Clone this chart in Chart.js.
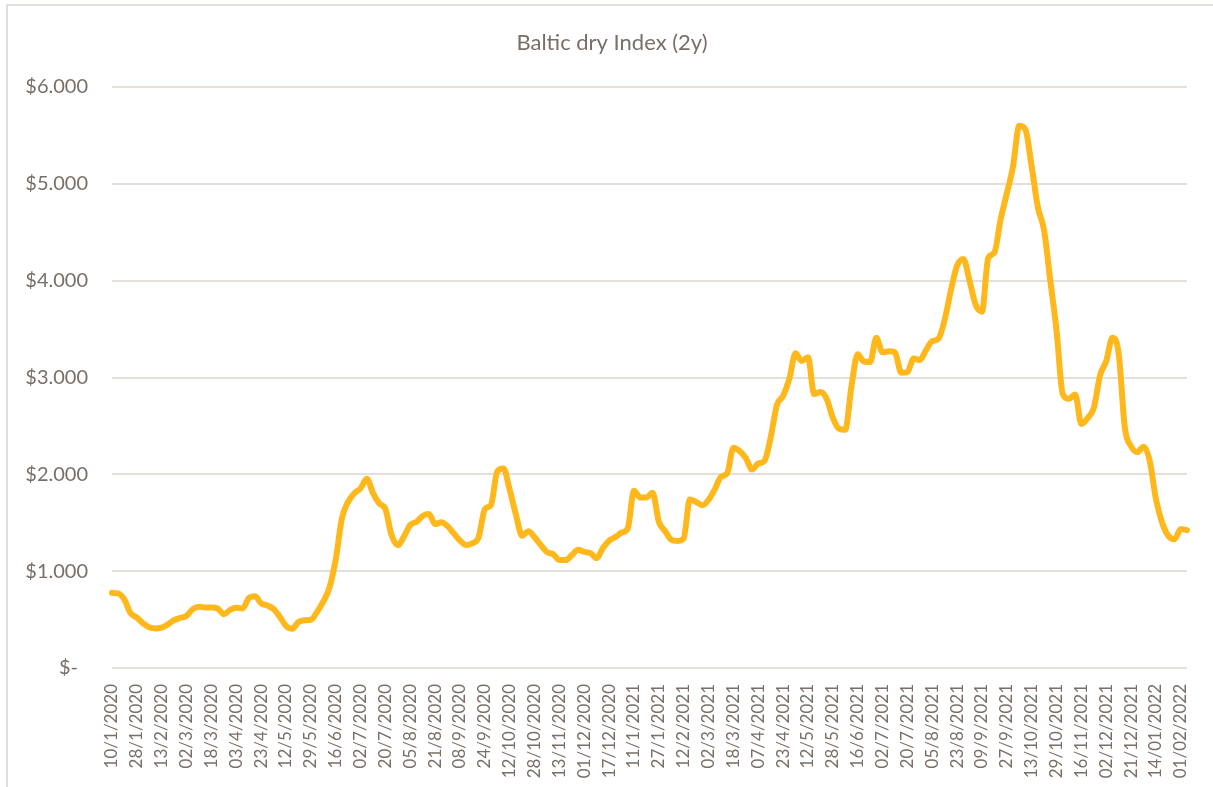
<!DOCTYPE html>
<html><head><meta charset="utf-8">
<script src="https://cdn.jsdelivr.net/npm/chart.js@4.4.1/dist/chart.umd.min.js"></script>
<style>html,body{margin:0;padding:0;background:#fff;} canvas{display:block;}</style>
</head><body>
<canvas id="c" width="1213" height="787"></canvas>
<script>
const chartTitle = 'Baltic dry Index (2y)';
const tickLabels = [
  '10/1/2020','28/1/2020','13/2/2020','02/3/2020','18/3/2020','03/4/2020','23/4/2020','12/5/2020',
  '29/5/2020','16/6/2020','02/7/2020','20/7/2020','05/8/2020','21/8/2020','08/9/2020','24/9/2020',
  '12/10/2020','28/10/2020','13/11/2020','01/12/2020','17/12/2020','11/1/2021','27/1/2021','12/2/2021',
  '02/3/2021','18/3/2021','07/4/2021','23/4/2021','12/5/2021','28/5/2021','16/6/2021','02/7/2021',
  '20/7/2021','05/8/2021','23/8/2021','09/9/2021','27/9/2021','13/10/2021','29/10/2021','16/11/2021',
  '02/12/2021','21/12/2021','14/01/2022','01/02/2022'
];
const pointsPerTick = 4;
const bdi = [
  776,770,706,565,520,460,420,407,417,450,
  495,517,540,608,632,625,625,615,555,600,
  622,615,720,740,668,645,610,530,436,405,
  475,493,498,580,685,830,1120,1545,1716,1805,
  1855,1955,1805,1700,1640,1370,1268,1360,1477,1509,
  1570,1590,1486,1505,1465,1390,1315,1270,1288,1350,
  1640,1685,2030,2060,1840,1585,1365,1412,1350,1270,
  1197,1175,1115,1115,1165,1220,1200,1187,1135,1240,
  1315,1352,1398,1442,1830,1760,1760,1810,1510,1415,
  1325,1312,1340,1740,1715,1680,1735,1845,1974,2010,
  2275,2240,2168,2050,2112,2140,2380,2715,2810,2985,
  3250,3170,3210,2830,2850,2780,2585,2470,2460,2910,
  3240,3165,3160,3410,3260,3270,3260,3050,3055,3195,
  3180,3283,3375,3400,3595,3900,4155,4225,4000,3750,
  3680,4231,4290,4630,4900,5179,5600,5560,5180,4760,
  4520,4000,3490,2830,2780,2825,2520,2580,2685,3020,
  3170,3410,3250,2480,2290,2230,2286,2140,1745,1500,
  1365,1330,1435,1424
];
const categories = bdi.map((_, i) => (i % pointsPerTick === 0 && tickLabels[i / pointsPerTick]) ? tickLabels[i / pointsPerTick] : '');

const txt = '#7a6f68';
const gridCol = '#e3e0dc';
const fontFam = 'Lato, "Open Sans", sans-serif';

const framePlugin = {
  id: 'frame',
  beforeDraw(chart) {
    const ctx = chart.ctx;
    ctx.save();
    ctx.strokeStyle = '#e2dfdb';
    ctx.lineWidth = 2;
    ctx.beginPath();
    ctx.moveTo(7, 800);
    ctx.lineTo(7, 5);
    ctx.lineTo(1220, 5);
    ctx.stroke();
    ctx.fillStyle = txt;
    ctx.font = '22px ' + fontFam;
    ctx.textAlign = 'center';
    ctx.textBaseline = 'middle';
    ctx.fillText(chartTitle, 612, 43);
    ctx.restore();
  }
};

new Chart(document.getElementById('c'), {
  type: 'line',
  data: {
    labels: categories,
    datasets: [{
      data: bdi,
      borderColor: '#FFB81C',
      borderWidth: 6,
      pointRadius: 0,
      tension: 0.3,
      cubicInterpolationMode: 'monotone',
      borderCapStyle: 'round',
      borderJoinStyle: 'round',
      fill: false
    }]
  },
  options: {
    responsive: false,
    animation: false,
    layout: { padding: { left: 0, right: 26, top: 87, bottom: 0 } },
    plugins: {
      legend: { display: false },
      tooltip: { enabled: false },
      title: { display: false }
    },
    scales: {
      x: {
        type: 'category',
        grid: { display: false },
        border: { display: false },
        ticks: {
          autoSkip: false,
          minRotation: 90,
          maxRotation: 90,
          padding: 8,
          color: txt,
          font: { family: fontFam, size: 17 },
          callback: (v, i) => categories[i] === '' ? null : categories[i]
        },
        afterFit: (s) => { s.height = 119; }
      },
      y: {
        min: 0,
        max: 6000,
        grid: { color: gridCol, lineWidth: 2, drawTicks: false },
        border: { display: false },
        ticks: {
          stepSize: 1000,
          padding: 24,
          color: txt,
          font: { family: fontFam, size: 20 },
          callback: (v) => v === 0 ? '$-\u2002' : '$' + (v / 1000) + '.000'
        },
        afterFit: (s) => { s.width = 112; }
      }
    }
  },
  plugins: [framePlugin]
});
</script>
</body></html>
